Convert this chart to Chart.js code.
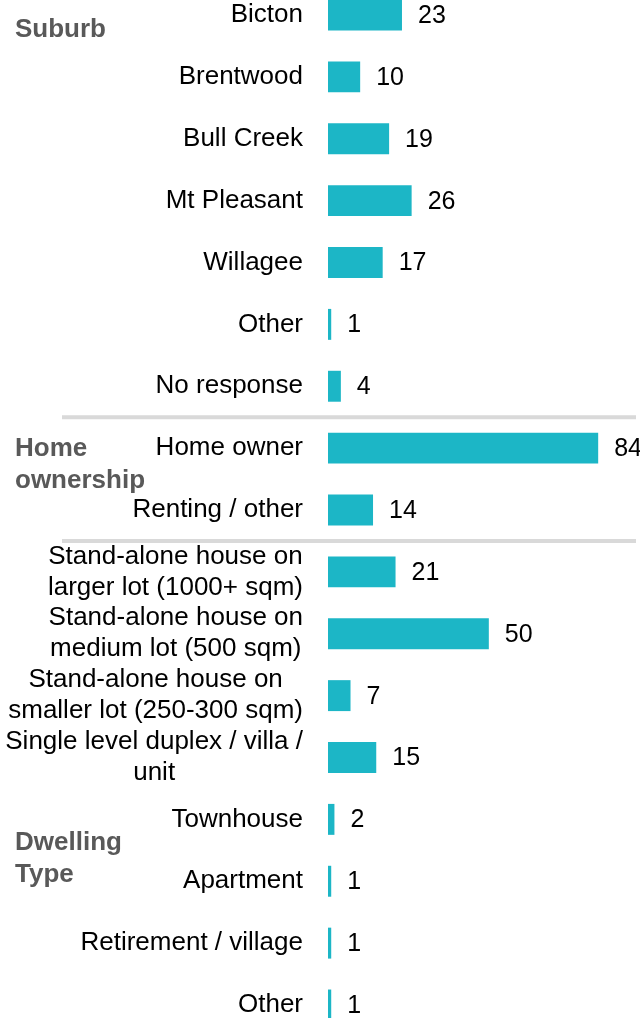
<!DOCTYPE html>
<html>
<head>
<meta charset="utf-8">
<script src="https://cdn.jsdelivr.net/npm/chart.js@4"></script>
<style>
    html, body { margin: 0; background: #fff; }
    canvas { display: block; }
</style>
</head>
<body>
<canvas id="barChart" width="640" height="1018"></canvas>
<script>
// data
const categories = [
    ['Bicton'], ['Brentwood'], ['Bull Creek'], ['Mt Pleasant'], ['Willagee'], ['Other'], ['No response'],
    ['Home owner'], ['Renting / other'],
    ['Stand-alone house on', 'larger lot (1000+ sqm)'],
    ['Stand-alone house on', 'medium lot (500 sqm)'],
    ['Stand-alone house on', 'smaller lot (250-300 sqm)'],
    ['Single level duplex / villa /', 'unit'],
    ['Townhouse'], ['Apartment'], ['Retirement / village'], ['Other']
]
const values = [23, 10, 19, 26, 17, 1, 4, 84, 14, 21, 50, 7, 15, 2, 1, 1, 1]
const groupNames = [['Suburb'], ['Home', 'ownership'], ['Dwelling', 'Type']]
const groupY = [30, 449, 843]          // first line of each group label
const separatorsAfter = [6, 8]         // gray rule between groups

const FONT = "'Liberation Sans', Arial, sans-serif"
const barColor = '#1cb6c6'

//- labels, values, group names and rules -
const annotate = {
    id: 'annotate',
    afterDatasetsDraw(chart) {
        const ctx = chart.ctx
        const y = chart.scales.y
        const meta = chart.getDatasetMeta(0)
        ctx.save()

        // separators
        ctx.strokeStyle = '#d9d9d9'
        ctx.lineWidth = 4
        separatorsAfter.forEach(function (i) {
            let py = (y.getPixelForValue(i) + y.getPixelForValue(i + 1)) / 2
            ctx.beginPath()
            ctx.moveTo(62, py)
            ctx.lineTo(636, py)
            ctx.stroke()
        })

        // category labels, lines centered, block right-aligned
        ctx.font = '26px ' + FONT
        ctx.fillStyle = '#000'
        ctx.textBaseline = 'middle'
        ctx.textAlign = 'center'
        const right = chart.chartArea.left - 25
        const lh = 31
        categories.forEach(function (lines, i) {
            let widest = Math.max.apply(null, lines.map(l => ctx.measureText(l).width))
            let cx = right - widest / 2
            let cy = y.getPixelForValue(i) - (lines.length - 1) * lh / 2
            lines.forEach(function (l, k) {
                ctx.fillText(l, cx, cy + k * lh)
            })
        })

        // value labels
        ctx.textAlign = 'left'
        ctx.font = '25px ' + FONT
        meta.data.forEach(function (bar, i) {
            ctx.fillText(values[i], bar.x + 16, bar.y + 1)
        })

        // group names
        ctx.font = 'bold 26px ' + FONT
        ctx.fillStyle = '#595959'
        groupNames.forEach(function (lines, g) {
            lines.forEach(function (l, k) {
                ctx.fillText(l, 15, groupY[g] + k * 32)
            })
        })
        ctx.restore()
    }
}

var barChartCanvas = document.getElementById('barChart').getContext('2d')
var barChart = new Chart(barChartCanvas, {
    type: 'bar',
    data: {
        labels: categories,
        datasets: [{
            data: values,
            backgroundColor: barColor,
            borderWidth: 0,
            categoryPercentage: 0.5,
            barPercentage: 1,
            clip: false
        }]
    },
    options: {
        indexAxis: 'y',
        responsive: false,
        animation: false,
        layout: { padding: { left: 328, right: 0, top: 15, bottom: 13 } },
        plugins: { legend: { display: false }, tooltip: { enabled: false } },
        scales: {
            x: { display: false, min: 0, max: 97 },
            y: { display: false, offset: false }
        }
    },
    plugins: [annotate]
})
</script>
</body>
</html>
